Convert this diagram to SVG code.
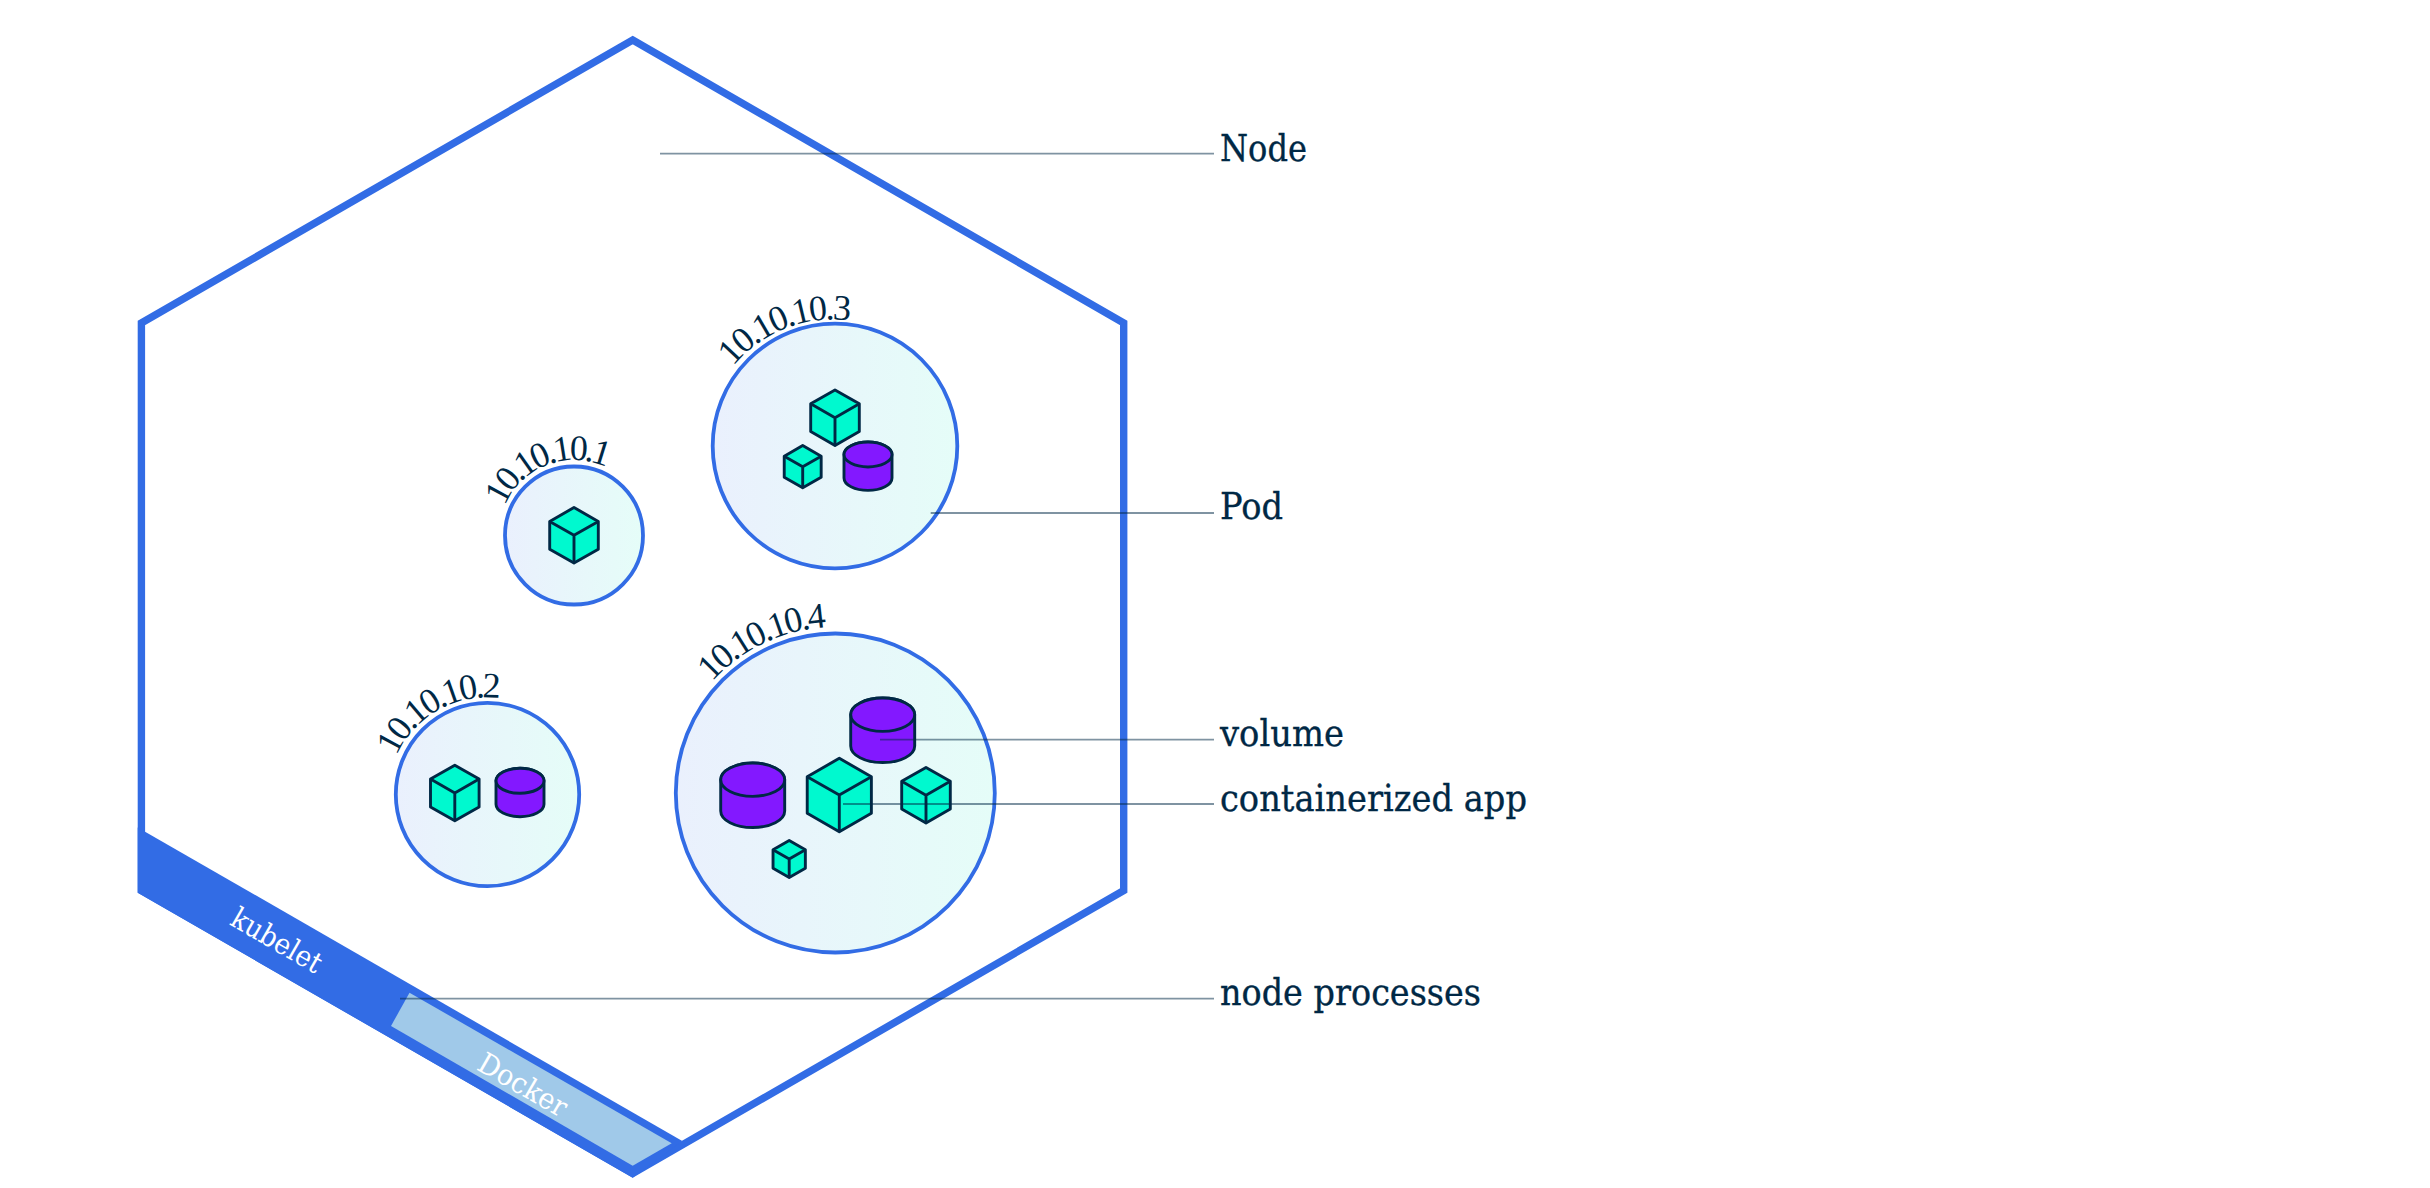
<svg xmlns="http://www.w3.org/2000/svg" xmlns:xlink="http://www.w3.org/1999/xlink" width="2430" height="1188" viewBox="0 0 2430 1188">
<style>
.hex{fill:#fff;stroke:#326ce5;stroke-width:7.4;stroke-linejoin:miter}
.pod{fill:url(#podfill);stroke:#326ce5;stroke-width:3.8}
.cf{fill:#00f9cf;stroke:#002845;stroke-width:2.9;stroke-linejoin:round;vector-effect:non-scaling-stroke}
.vf{fill:#8318ff;stroke:#002845;stroke-width:2.9;stroke-linejoin:round;vector-effect:non-scaling-stroke}
.lead{stroke:#002845;stroke-opacity:.5;stroke-width:1.8;fill:none}
.lab{font-family:"DejaVu Serif","Liberation Serif",serif;font-size:38px;fill:#002845;stroke:#002845;stroke-width:.35}
.ip{font-family:"Liberation Serif",serif;font-size:36px;fill:#002845}
.wt{font-family:"DejaVu Serif","Liberation Serif",serif;font-size:29px;fill:#fff}
</style>
<defs>
<linearGradient id="podfill" x1="0" y1="0" x2="1" y2="0"><stop offset="0" stop-color="#eaf0fd"/><stop offset="1" stop-color="#e5fdf8"/></linearGradient>
<g id="cube"><polygon class="cf" points="0,-27.8 24.3,-13.9 24.3,13.9 0,27.8 -24.3,13.9 -24.3,-13.9"/><path class="cf" d="M-24.3,-13.9L0,0L24.3,-13.9M0,0V27.8"/></g>
<g id="vol"><path class="vf" d="M-24,-11.7V11.7A24,12.5 0 0 0 24,11.7V-11.7A24,12.5 0 0 0 -24,-11.7Z"/><ellipse class="vf" cx="0" cy="-11.7" rx="24" ry="12.5"/></g>
<path id="a1" d="M504.5,505A75.5,75.5 0 0 1 643.5,564"/>
<path id="a2" d="M396.4,754.8A99,99 0 0 1 578.6,832.2"/>
<path id="a3" d="M733,365.3A129.5,129.5 0 0 1 937,524.7"/>
<path id="a4" d="M711.9,680.9A166,166 0 0 1 958.7,903.1"/>
</defs>
<rect width="2430" height="1188" fill="#fff"/>
<g id="node-hexagon"><polygon class="hex" points="632.7,40 1123.7,323 1123.7,890.5 632.7,1173.5 141.4,890.5 141.4,323"/></g>
<g id="kubelet"><polygon fill="#326ce5" points="137.7,827.4 682.3,1141 632.7,1177.7 137.7,892.7"/><text class="wt" transform="translate(228.5,924) rotate(30)" textLength="100" lengthAdjust="spacingAndGlyphs">kubelet</text></g>
<g id="docker"><polygon fill="#a0c9e9" points="409.5,992.7 671.7,1143.3 632.7,1165.7 391,1026"/><text class="wt" transform="translate(475.6,1069) rotate(30)" textLength="98" lengthAdjust="spacingAndGlyphs">Docker</text></g>
<g transform="translate(0,1)">
<g id="pod-1"><circle class="pod" cx="574" cy="534.5" r="69"/><text class="ip" letter-spacing="-3.5"><textPath href="#a1">10.10.10.1</textPath></text><use href="#cube" x="574" y="534.3"/></g>
<g id="pod-2"><circle class="pod" cx="487.5" cy="793.5" r="91.7"/><text class="ip" letter-spacing="-2.9"><textPath href="#a2">10.10.10.2</textPath></text><use href="#cube" x="454.8" y="792"/><use href="#vol" x="520" y="791.5"/></g>
<g id="pod-3"><circle class="pod" cx="835" cy="445" r="122.3"/><text class="ip" letter-spacing="-2.4"><textPath href="#a3">10.10.10.3</textPath></text><use href="#cube" x="835" y="416.7"/><use href="#cube" transform="translate(802.7,465.7) scale(.76)"/><use href="#vol" x="868" y="465.2"/></g>
<g id="pod-4"><circle class="pod" cx="835.3" cy="792" r="159.5"/><text class="ip" letter-spacing="-2.5"><textPath href="#a4">10.10.10.4</textPath></text><use href="#vol" transform="translate(882.7,729.3) scale(1.333)"/><use href="#vol" transform="translate(752.7,794.3) scale(1.333)"/><use href="#cube" transform="translate(839.3,794) scale(1.32)"/><use href="#cube" x="926" y="794.2"/><use href="#cube" transform="translate(789.2,858) scale(.665)"/></g>
</g>
<g id="connectors">
<line class="lead" x1="660" y1="153.7" x2="1214" y2="153.7"/>
<line class="lead" x1="930.7" y1="513" x2="1214" y2="513"/>
<line class="lead" x1="880" y1="739.7" x2="1214" y2="739.7"/>
<line class="lead" x1="843" y1="804" x2="1214" y2="804"/>
<line class="lead" x1="400" y1="998.7" x2="1214" y2="998.7"/>
</g>
<g id="labels">
<text class="lab" x="1220" y="160.7" textLength="87" lengthAdjust="spacingAndGlyphs">Node</text>
<text class="lab" x="1220" y="519.3" textLength="63" lengthAdjust="spacingAndGlyphs">Pod</text>
<text class="lab" x="1220" y="746" textLength="124" lengthAdjust="spacingAndGlyphs">volume</text>
<text class="lab" x="1220" y="810.7" textLength="307" lengthAdjust="spacingAndGlyphs">containerized app</text>
<text class="lab" x="1220" y="1005" textLength="261" lengthAdjust="spacingAndGlyphs">node processes</text>
</g>
</svg>
